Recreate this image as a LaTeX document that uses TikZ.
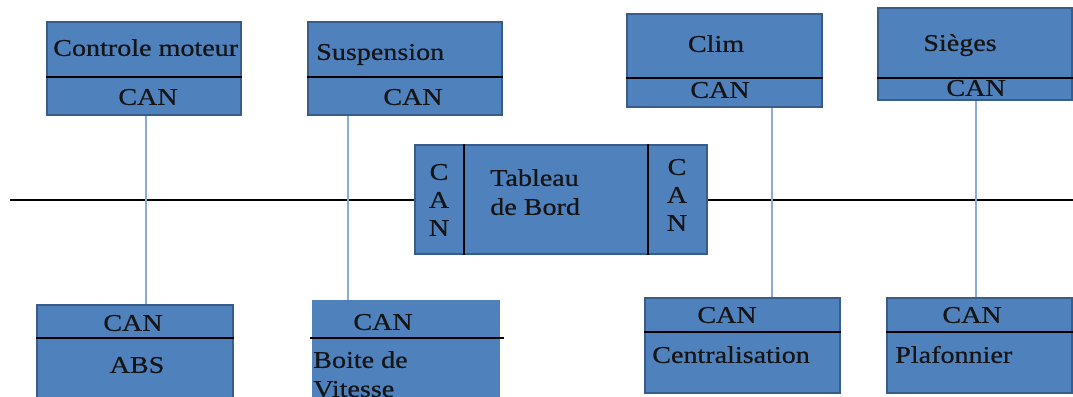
\documentclass[tikz,border=0pt]{standalone}
\usepackage{fontspec}
\setmainfont[FakeStretch=1.17, FakeBold=0.6]{Liberation Serif}
\usetikzlibrary{fit}
\definecolor{ecufill}{HTML}{4F81BD}
\definecolor{ecuborder}{HTML}{385D8A}
\definecolor{linkblue}{HTML}{86ABDC}
\definecolor{inkdark}{HTML}{151515}
\tikzset{
  ecu/.style={draw=ecuborder, fill=ecufill, line width=1.6pt, inner sep=0pt},
  ecuplain/.style={fill=ecufill, inner sep=0pt},
  divider/.style={draw=black, line width=1.1pt},
  link/.style={draw=linkblue, line width=2pt},
  bus/.style={draw=black, line width=1.1pt},
  lbl/.style={inner sep=0pt, text=inkdark, font=\fontsize{18}{27}\selectfont, yshift=-3.6pt},
  lblw/.style={lbl, anchor=mid west},
  lblc/.style={lbl, anchor=mid},
}
\begin{document}
\begin{tikzpicture}[x=0.75pt, y=-0.75pt]
\useasboundingbox (0,0) rectangle (1073,396);
\clip (0,0) rectangle (1073,396);

% upper modules
\node[ecu, fit={(47,22) (241,115)}] (cm) {};
\node[ecu, fit={(308,22) (502,115)}] (su) {};
\node[ecu, fit={(627,14) (822,107)}] (cl) {};
\node[ecu, fit={(878,8) (1072,100)}] (si) {};

% lower modules
\node[ecu, fit={(37,305) (233,410)}] (abs) {};
\node[ecuplain, fit={(312,300) (500,410)}] (bv) {};
\node[ecu, fit={(645,298) (840,393)}] (ce) {};
\node[ecu, fit={(887,298) (1072,393)}] (pl) {};

% dashboard
\node[ecu, fit={(415,145) (707,254)}] (tdb) {};

% dividers between function and CAN controller
\coordinate (dcm) at (0,77);
\coordinate (dsu) at (0,77);
\coordinate (dcl) at (0,78);
\coordinate (dsi) at (0,78);
\coordinate (dabs) at (0,338);
\coordinate (dce) at (0,332);
\coordinate (dpl) at (0,332);
\draw[divider] (cm.west |- dcm) -- (cm.east |- dcm);
\draw[divider] (su.west |- dsu) -- (su.east |- dsu);
\draw[divider] (cl.west |- dcl) -- (cl.east |- dcl);
\draw[divider] (si.west |- dsi) -- (si.east |- dsi);
\draw[divider] (abs.west |- dabs) -- (abs.east |- dabs);
\coordinate (dbvL) at (310,338);
\coordinate (dbvR) at (504,338);
\draw[divider] (dbvL) -- (dbvR);
\draw[divider] (ce.west |- dce) -- (ce.east |- dce);
\draw[divider] (pl.west |- dpl) -- (pl.east |- dpl);
\coordinate (tdbL) at (464,0);
\coordinate (tdbR) at (648,0);
\draw[divider] (tdb.north -| tdbL) -- (tdb.south -| tdbL);
\draw[divider] (tdb.north -| tdbR) -- (tdb.south -| tdbR);

% bus
\coordinate (busL) at (10,200);
\coordinate (busR) at (1073,200);
\draw[bus] (busL) -- (tdb.west |- busL);
\draw[bus] (tdb.east |- busL) -- (busR);

% stubs from the modules
\coordinate (x1) at (146,0);
\coordinate (x2) at (348,0);
\coordinate (x3) at (772,0);
\coordinate (x4) at (976,0);
\draw[link] (cm.south -| x1) -- (abs.north -| x1);
\draw[link] (su.south -| x2) -- (bv.north -| x2);
\draw[link] (cl.south -| x3) -- (ce.north -| x3);
\draw[link] (si.south -| x4) -- (pl.north -| x4);

% labels
\node[lblw] (tcm) at (53,48) {Controle moteur};
\node[lblc] (ccm) at (148,97) {CAN};
\node[lblw] (tsu) at (316,52) {Suspension};
\node[lblc] (csu) at (413,97) {CAN};
\node[lblc] (tcl) at (716,44) {Clim};
\node[lblc] (ccl) at (720,90) {CAN};
\node[lblc] (tsi) at (960,43) {Sièges};
\node[lblc] (csi) at (976,88) {CAN};

\node[lblc] (cabs) at (133,323) {CAN};
\node[lblc] (tabs) at (137,365) {ABS};
\node[lblc] (cbv) at (383,322) {CAN};
\node[lblw] (tbv1) at (313,360) {Boite de};
\node[lblw] (tbv2) at (313,389) {Vitesse};
\node[lblc] (cce) at (727,315) {CAN};
\node[lblw] (tce) at (652,355) {Centralisation};
\node[lblc] (cpl) at (972,315) {CAN};
\node[lblw] (tpl) at (895,355) {Plafonnier};

\node[lblw] (ttdb1) at (490,178) {Tableau};
\node[lblw] (ttdb2) at (490,207) {de Bord};
\node[lblc] (lc) at (439,172) {C};
\node[lblc] (la) at (439,200) {A};
\node[lblc] (ln) at (439,228) {N};
\node[lblc] (rc) at (677,167) {C};
\node[lblc] (ra) at (677,195) {A};
\node[lblc] (rn) at (677,223) {N};
\end{tikzpicture}
\end{document}
